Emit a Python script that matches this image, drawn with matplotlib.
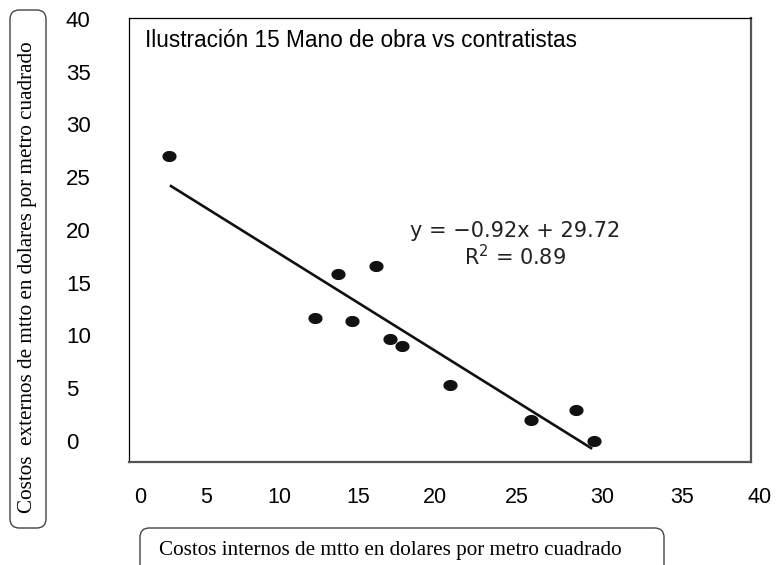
import matplotlib.pyplot as plt
import numpy as np
from matplotlib.patches import FancyBboxPatch
from matplotlib.path import Path

# datos
costo_interno = [1.9, 12.8, 15.2, 11.3, 13.7, 16.1, 16.9, 20.0, 25.2, 28.1, 29.3]
costo_externo = [27.0, 15.8, 16.6, 11.7, 11.4, 9.7, 9.0, 5.3, 2.0, 2.9, 0.0]
rango_tendencia = [2.0, 29.1]

ticks_y = [0, 5, 10, 15, 20, 25, 30, 35, 40]
etiquetas_x = ['0', '5', '10', '15', '20', '25', '30', '35', '40']
# las etiquetas del eje x no estan espaciadas de forma pareja en el original
pos_etiquetas_x = [0, 4.26, 8.97, 14.06, 19.03, 24.32, 29.81, 34.97, 40]

titulo = 'Ilustración 15 Mano de obra vs contratistas'
ecuacion = 'y = \u22120.92x + 29.72'
r2 = 'R$^2$ = 0.89'
etiqueta_y = 'Costos  externos de mtto en dolares por metro cuadrado'
etiqueta_x = 'Costos internos de mtto en dolares por metro cuadrado'

W, H = 777, 565
fig = plt.figure(figsize=(W / 100, H / 100), dpi=100)

def caja(x0, y0, x1, y1):
    # pixeles (desde arriba) -> fraccion de figura
    return [x0 / W, 1 - y1 / H, (x1 - x0) / W, (y1 - y0) / H]

ax = fig.add_axes(caja(129, 18, 751, 462))
ax.set_xlim(-0.71, 39.42)
ax.set_ylim(-1.99, 40.09)
ax.set_xticks([])
ax.set_yticks(ticks_y)
ax.set_yticklabels([str(t) for t in ticks_y], ha='left', fontsize=16,
                   family='Liberation Sans')
ax.tick_params(axis='y', length=0, pad=45.4)
for lado in ['top', 'left']:
    ax.spines[lado].set_color('black')
    ax.spines[lado].set_linewidth(0.9)
for lado in ['right', 'bottom']:
    ax.spines[lado].set_color('#555555')
    ax.spines[lado].set_linewidth(1.6)

# marcador eliptico
t = np.linspace(0, 2 * np.pi, 40)
elipse = Path(np.column_stack([np.cos(t), 0.76 * np.sin(t)]))
ax.scatter(costo_interno, costo_externo, marker=elipse, s=85, color='#111111',
           zorder=3)

m, b = np.polyfit(costo_interno, costo_externo, 1)
xt = np.array(rango_tendencia)
ax.plot(xt, m * xt + b, color='#111111', lw=1.9, zorder=2)

ax.text(0.026, 0.95, titulo, transform=ax.transAxes, fontsize=16.3,
        family='Liberation Sans', va='center', ha='left')
ax.text(0.62, 0.52, ecuacion, transform=ax.transAxes, fontsize=15,
        family='DejaVu Sans', color='#222222', ha='center', va='center')
ax.text(0.62, 0.462, r2, transform=ax.transAxes, fontsize=15,
        family='DejaVu Sans', color='#222222', ha='center', va='center')

# eje auxiliar solo para las etiquetas del eje x
ax_t = fig.add_axes(caja(140, 486, 760, 487))
ax_t.set_xlim(0, 40)
ax_t.set_xticks(pos_etiquetas_x)
ax_t.set_xticklabels(etiquetas_x, fontsize=15.5, family='Liberation Sans')
ax_t.tick_params(axis='x', length=0, pad=0)
ax_t.set_yticks([])
for lado in ax_t.spines:
    ax_t.spines[lado].set_visible(False)
ax_t.patch.set_alpha(0)

# cajas de los titulos de los ejes
caja_y = FancyBboxPatch((10 / W, 1 - 528 / H), 36 / W, 518 / H,
                        boxstyle='round,pad=0,rounding_size=0.012',
                        transform=fig.transFigure, fc='white', ec='#444444',
                        lw=1.0, mutation_aspect=W / H)
fig.patches.append(caja_y)
fig.text(28 / W, 1 - 277 / H, etiqueta_y, rotation=90, ha='center', va='center',
         fontsize=15.2, family='Liberation Serif')

caja_x = FancyBboxPatch((140 / W, 1 - 580 / H), 524 / W, 52 / H,
                        boxstyle='round,pad=0,rounding_size=0.012',
                        transform=fig.transFigure, fc='white', ec='#444444',
                        lw=1.0, mutation_aspect=W / H)
fig.patches.append(caja_x)
fig.text(390 / W, 1 - 550 / H, etiqueta_x, ha='center', va='center',
         fontsize=15.2, family='Liberation Serif')

plt.savefig('out.png', dpi=100)
